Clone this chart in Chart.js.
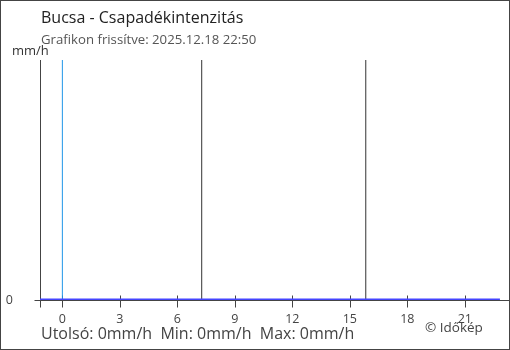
<!DOCTYPE html>
<html>
<head>
<meta charset="utf-8">
<script src="https://cdn.jsdelivr.net/npm/chart.js@4"></script>
<style>
  html, body { margin: 0; padding: 0; background: #fff; }
  #wrap { position: relative; width: 510px; height: 350px; font-family: "Open Sans", "Noto Sans", sans-serif; }
  #frame { position: absolute; left: 0; top: 0; width: 508px; height: 348px; border: 1px solid #444; border-right-width: 2px; box-sizing: content-box; pointer-events: none; }
  canvas { position: absolute; left: 0; top: 0; }
  .t { position: absolute; white-space: nowrap; line-height: 1; }
</style>
</head>
<body>
<div id="wrap">
  <canvas id="c" width="510" height="350"></canvas>
  <div id="frame"></div>
  <div class="t" id="title" style="left:41px; top:9px; font-size:16px; color:#222;"></div>
  <div class="t" id="subtitle" style="left:41px; top:33px; font-size:13.2px; color:#555;"></div>
  <div class="t" id="unit" style="left:12px; top:44px; font-size:13px; color:#333;"></div>
  <div class="t" id="stats" style="left:41px; top:325px; font-size:16px; color:#444;"></div>
  <div class="t" id="copy" style="left:425px; top:321px; font-size:13.5px; color:#444;"></div>
</div>
<script>
// ---- data ----
const titleText = "Bucsa - Csapadékintenzitás";
const subtitleText = "Grafikon frissítve: 2025.12.18 22:50";
const unitText = "mm/h";
const statsText = "Utolsó: 0mm/h\u00a0\u00a0Min: 0mm/h\u00a0\u00a0Max: 0mm/h";
const copyText = "© Időkép";

const hours  = [-1.17, -1, 0, 1, 2, 3, 4, 5, 6, 7, 8, 9, 10, 11, 12, 13, 14, 15, 16, 17, 18, 19, 20, 21, 22, 22.83];
const precip = [0, 0, 0, 0, 0, 0, 0, 0, 0, 0, 0, 0, 0, 0, 0, 0, 0, 0, 0, 0, 0, 0, 0, 0, 0, 0];
const tickHours = [0, 3, 6, 9, 12, 15, 18, 21];
const yTicks = [0];
const midnightHour = 0;
const sunHours = [7.27, 15.83];   // sunrise, sunset markers
const xMin = -1.1667, xMax = 22.8333;
const yMin = 0, yMax = 1;

document.getElementById('title').textContent = titleText;
document.getElementById('subtitle').textContent = subtitleText;
document.getElementById('unit').textContent = unitText;
document.getElementById('stats').textContent = statsText;
document.getElementById('copy').textContent = copyText;

const axisColor = '#444';

const axesPlugin = {
  id: 'axesPlugin',
  beforeDatasetsDraw(chart) {
    const ctx = chart.ctx, x = chart.scales.x, y = chart.scales.y, a = chart.chartArea;
    ctx.save();
    ctx.strokeStyle = axisColor;
    ctx.lineWidth = 1;
    const y0 = Math.round(y.getPixelForValue(0)) + 0.5;
    const xl = Math.round(x.getPixelForValue(xMin)) + 0.5;
    ctx.beginPath();
    ctx.moveTo(xl, y0); ctx.lineTo(chart.width - 1, y0);
    ctx.moveTo(xl, Math.round(a.top)); ctx.lineTo(xl, y0 + 7);
    yTicks.forEach(v => { const py = Math.round(y.getPixelForValue(v)) + 0.5; ctx.moveTo(xl - 6, py); ctx.lineTo(xl, py); });
    tickHours.forEach(h => { const px = Math.round(x.getPixelForValue(h)) + 0.5; ctx.moveTo(px, y0 - 5); ctx.lineTo(px, y0 + 7); });
    ctx.stroke();
    // x tick labels
    ctx.fillStyle = '#444';
    ctx.font = '12.5px "Open Sans"';
    ctx.textAlign = 'center';
    ctx.textBaseline = 'middle';
    tickHours.forEach(h => { ctx.fillText(String(h), x.getPixelForValue(h), y0 + 19); });
    ctx.restore();
  }
};

const vline = (h, color) => ({
  data: [{x: h, y: yMin}, {x: h, y: yMax}],
  borderColor: color, borderWidth: 1, pointRadius: 0, fill: false, order: 2
});

new Chart(document.getElementById('c'), {
  type: 'line',
  data: {
    datasets: [
      {
        data: hours.map((h, i) => ({x: h, y: precip[i]})),
        borderColor: '#4444ff', borderWidth: 3, pointRadius: 0, fill: false, order: 0, tension: 0
      },
      vline(midnightHour, '#2196e8'),
      ...sunHours.map(h => vline(h, '#333'))
    ]
  },
  options: {
    responsive: false,
    animation: false,
    events: [],
    layout: { padding: { left: 0, right: 10, top: 60, bottom: 0 } },
    plugins: { legend: { display: false }, tooltip: { enabled: false }, title: { display: false } },
    scales: {
      x: {
        type: 'linear', min: xMin, max: xMax,
        afterBuildTicks: s => { s.ticks = tickHours.map(v => ({value: v})); },
        afterFit: s => { s.height = 50; },
        grid: { display: false, drawTicks: false },
        border: { display: false },
        ticks: { display: false }
      },
      y: {
        type: 'linear', min: yMin, max: yMax,
        afterBuildTicks: s => { s.ticks = yTicks.map(v => ({value: v})); },
        afterFit: s => { s.width = 40; },
        grid: { display: false, drawTicks: false },
        border: { display: false },
        ticks: { padding: 27, color: '#444', font: { family: 'Open Sans', size: 12.5 } }
      }
    }
  },
  plugins: [axesPlugin]
});
</script>
</body>
</html>
